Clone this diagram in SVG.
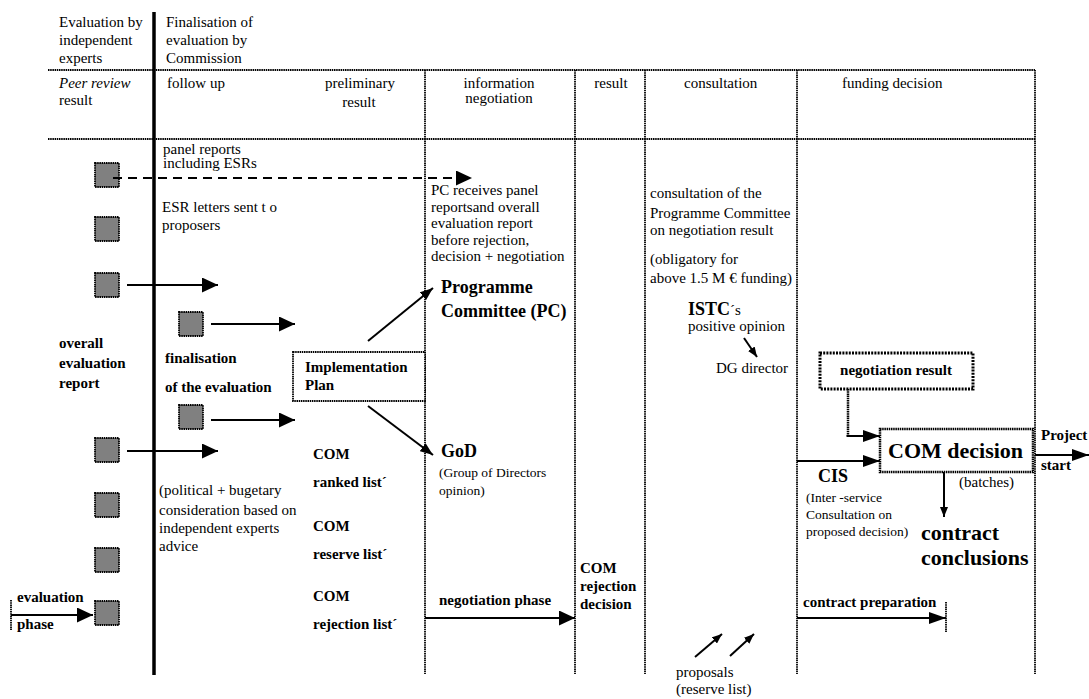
<svg xmlns="http://www.w3.org/2000/svg" width="1089" height="699" viewBox="0 0 1089 699" font-family="'Liberation Serif', 'DejaVu Serif', serif">
  <style>
    text { font-family: "Liberation Serif", "DejaVu Serif", serif; fill: #000; }
    .t { font-size: 15px; }
    .s { font-size: 13.5px; }
    .b { font-size: 15px; font-weight: bold; }
    .bl { font-size: 18px; font-weight: bold; }
    .bx { font-size: 22px; font-weight: bold; }
    .it { font-size: 15px; font-style: italic; }
    .mid { text-anchor: middle; }
    .grid { stroke: #000; stroke-width: 1.8; stroke-dasharray: 1.5 0.7; fill: none; }
    .sq { fill: #808080; stroke: #000; stroke-width: 1.8; stroke-dasharray: 1.5 0.7; }
    .box { fill: #fff; stroke: #000; stroke-width: 1.8; stroke-dasharray: 1.5 0.7; }
    .arr { stroke: #000; stroke-width: 2; fill: none; }
  </style>
  <defs>
    <marker id="head" markerUnits="userSpaceOnUse" markerWidth="16" markerHeight="15" refX="16" refY="7.5" orient="auto">
      <path d="M0,0 L16,7.5 L0,15 z" fill="#000"/>
    </marker>
    <marker id="headm" markerUnits="userSpaceOnUse" markerWidth="17" markerHeight="12" refX="17" refY="6" orient="auto">
      <path d="M0,0 L17,6 L0,12 z" fill="#000"/>
    </marker>
    <marker id="heads" markerUnits="userSpaceOnUse" markerWidth="13" markerHeight="10" refX="13" refY="5" orient="auto">
      <path d="M0,0 L13,5 L0,10 z" fill="#000"/>
    </marker>
    <marker id="headxs" markerUnits="userSpaceOnUse" markerWidth="10" markerHeight="8" refX="10" refY="4" orient="auto">
      <path d="M0,0 L10,4 L0,8 z" fill="#000"/>
    </marker>
  </defs>

  <!-- phase grid -->
  <g id="grid">
    <line class="grid" x1="48" y1="70" x2="1035" y2="70"/>
    <line class="grid" x1="48" y1="139" x2="1035" y2="139"/>
    <line class="grid" x1="425" y1="70" x2="425" y2="674"/>
    <line class="grid" x1="575" y1="70" x2="575" y2="674"/>
    <line class="grid" x1="645" y1="70" x2="645" y2="674"/>
    <line class="grid" x1="797" y1="70" x2="797" y2="674"/>
    <line class="grid" x1="1035" y1="70" x2="1035" y2="674"/>
    <line x1="154" y1="12" x2="154" y2="675" stroke="#000" stroke-width="3.5"/>
  </g>

  <!-- column headings -->
  <g id="headings">
    <text class="t" x="59" y="27">Evaluation by</text>
    <text class="t" x="59" y="45">independent</text>
    <text class="t" x="59" y="63">experts</text>
    <text class="t" x="166" y="27">Finalisation  of</text>
    <text class="t" x="166" y="45">evaluation by</text>
    <text class="t" x="166" y="63">Commission</text>
    <text class="it" x="59" y="88">Peer review</text>
    <text class="t" x="59" y="105">result</text>
    <text class="t" x="167" y="88">follow up</text>
    <text class="t mid" x="360" y="88">preliminary</text>
    <text class="t mid" x="359" y="107">result</text>
    <text class="t mid" x="499" y="88">information</text>
    <text class="t mid" x="499" y="103">negotiation</text>
    <text class="t mid" x="611" y="88">result</text>
    <text class="t" x="684" y="88">consultation</text>
    <text class="t" x="842" y="88">funding decision</text>
  </g>

  <!-- proposal squares -->
  <g id="proposals-left">
    <rect class="sq" x="95" y="163" width="24" height="24"/>
    <rect class="sq" x="95" y="217" width="24" height="24"/>
    <rect class="sq" x="95" y="273" width="24" height="24"/>
    <rect class="sq" x="95" y="438" width="24" height="24"/>
    <rect class="sq" x="95" y="493" width="24" height="24"/>
    <rect class="sq" x="95" y="548" width="24" height="24"/>
    <rect class="sq" x="95" y="601" width="24" height="24"/>
  </g>
  <g id="proposals-inner">
    <rect class="sq" x="179" y="312" width="24" height="24"/>
    <rect class="sq" x="179" y="405" width="24" height="24"/>
  </g>

  <!-- connectors -->
  <g id="connectors">
    <line x1="113" y1="178" x2="472" y2="178" stroke="#000" stroke-width="2" stroke-dasharray="9 6" marker-end="url(#head)"/>
    <line class="arr" x1="127" y1="285" x2="218" y2="285" marker-end="url(#head)"/>
    <line class="arr" x1="211" y1="324" x2="295" y2="324" marker-end="url(#head)"/>
    <line class="arr" x1="211" y1="420" x2="295" y2="420" stroke-width="3" marker-end="url(#head)"/>
    <line class="arr" x1="127" y1="451" x2="218" y2="451" marker-end="url(#head)"/>
    <line class="arr" x1="11" y1="615" x2="93" y2="615" marker-end="url(#head)"/>
    <line x1="11" y1="600" x2="11" y2="630" stroke="#000" stroke-width="1.8" stroke-dasharray="1.5 0.7"/>
    <line class="arr" x1="368" y1="341" x2="433" y2="288" marker-end="url(#heads)"/>
    <line class="arr" x1="368" y1="406" x2="433" y2="455" marker-end="url(#heads)"/>
    <line class="arr" x1="425" y1="618" x2="575" y2="618" marker-end="url(#head)"/>
    <line class="arr" x1="744" y1="338" x2="757" y2="357" stroke-width="2.5" marker-end="url(#headxs)"/>
    <line x1="848" y1="389" x2="848" y2="436" stroke="#000" stroke-width="2.5" stroke-dasharray="1.5 0.7"/>
    <line class="arr" x1="846.5" y1="436" x2="880" y2="436" stroke-width="3.5" marker-end="url(#headm)"/>
    <line class="arr" x1="797" y1="461" x2="880" y2="461" marker-end="url(#headm)"/>
    <line class="arr" x1="944" y1="472" x2="944" y2="517" marker-end="url(#headxs)"/>
    <line class="arr" x1="1035" y1="455" x2="1089" y2="455" marker-end="url(#headm)"/>
    <line class="arr" x1="797" y1="618" x2="946" y2="618" marker-end="url(#headm)"/>
    <line x1="946" y1="602" x2="946" y2="632" stroke="#000" stroke-width="1.8" stroke-dasharray="1.5 0.7"/>
    <line class="arr" x1="695" y1="657" x2="722" y2="634" marker-end="url(#headxs)"/>
    <line class="arr" x1="730" y1="656" x2="754" y2="634" stroke-width="1.5" marker-end="url(#headxs)"/>
  </g>

  <!-- evaluation by independent experts -->
  <g id="expert-notes">
    <text class="t" x="163" y="154">panel reports</text>
    <text class="t" x="163" y="168">including ESRs</text>
    <text class="t" x="162" y="212">ESR letters  sent  t o</text>
    <text class="t" x="162" y="230">proposers</text>
    <text class="b" x="59" y="348">overall</text>
    <text class="b" x="59" y="368">evaluation</text>
    <text class="b" x="59" y="388">report</text>
    <text class="b" x="17" y="602">evaluation</text>
    <text class="b" x="17" y="629">phase</text>
  </g>

  <g id="finalisation">
    <text class="b" x="165" y="363">finalisation</text>
    <text class="b" x="165" y="392">of the  evaluation</text>
    <text class="t" x="159" y="495">(political + bugetary</text>
    <text class="t" x="159" y="515">consideration based on</text>
    <text class="t" x="159" y="533">independent experts</text>
    <text class="t" x="159" y="551">advice</text>
  </g>

  <g id="implementation-plan">
    <rect class="box" x="293" y="352" width="132" height="49"/>
    <text class="b" x="305" y="372">Implementation</text>
    <text class="b" x="305" y="390">Plan</text>
  </g>

  <g id="com-lists">
    <text class="b" x="313" y="459">COM</text>
    <text class="b" x="313" y="487">ranked list´</text>
    <text class="b" x="313" y="531">COM</text>
    <text class="b" x="313" y="559">reserve list´</text>
    <text class="b" x="313" y="601">COM</text>
    <text class="b" x="313" y="629">rejection list´</text>
  </g>

  <g id="programme-committee">
    <text class="t" x="431" y="195">PC receives panel</text>
    <text class="t" x="431" y="212">reportsand overall</text>
    <text class="t" x="431" y="228">evaluation report</text>
    <text class="t" x="431" y="245">before rejection,</text>
    <text class="t" x="431" y="261">decision + negotiation</text>
    <text class="bl" x="441" y="293">Programme</text>
    <text class="bl" x="441" y="317">Committee (PC)</text>
  </g>

  <g id="god">
    <text class="bl" x="441" y="457">GoD</text>
    <text class="s" x="439" y="477">(Group of Directors</text>
    <text class="s" x="439" y="495">opinion)</text>
  </g>

  <g id="negotiation-phase">
    <text class="b" x="439" y="605">negotiation phase</text>
  </g>

  <g id="rejection-decision">
    <text class="b" x="580" y="573">COM</text>
    <text class="b" x="580" y="591">rejection</text>
    <text class="b" x="580" y="609">decision</text>
  </g>

  <g id="consultation">
    <text class="t" x="650" y="198">consultation of the</text>
    <text class="t" x="650" y="218">Programme Committee</text>
    <text class="t" x="650" y="235">on negotiation result</text>
    <text class="t" x="650" y="264">(obligatory  for</text>
    <text class="t" x="650" y="283">above 1.5 M €  funding)</text>
    <text x="688" y="315"><tspan class="bl">ISTC</tspan><tspan class="t">´s</tspan></text>
    <text class="t" x="688" y="331">positive opinion</text>
    <text class="t" x="716" y="373">DG director</text>
    <text class="t" x="676" y="677">proposals</text>
    <text class="t" x="676" y="694">(reserve  list)</text>
  </g>

  <g id="negotiation-result">
    <rect x="820" y="353" width="153" height="36" fill="#fff" stroke="#000" stroke-width="3" stroke-dasharray="2 1.2"/>
    <text class="b mid" x="896" y="375">negotiation result</text>
  </g>

  <g id="com-decision">
    <rect x="880" y="429" width="153" height="43" fill="#fff" stroke="#000" stroke-width="2.5" stroke-dasharray="1.5 0.7"/>
    <text class="bx" x="888" y="458">COM decision</text>
    <text class="t" x="959" y="487">(batches)</text>
  </g>

  <g id="cis">
    <text class="bl" x="818" y="482">CIS</text>
    <text class="s" x="806" y="502">(Inter -service</text>
    <text class="s" x="806" y="519">Consultation on</text>
    <text class="s" x="806" y="536">proposed decision)</text>
  </g>

  <g id="contract">
    <text class="bx" x="921" y="540">contract</text>
    <text class="bx" x="921" y="565">conclusions</text>
    <text class="b" x="803" y="607">contract preparation</text>
  </g>

  <g id="project-start">
    <text class="b" x="1041" y="440">Project</text>
    <text class="b" x="1041" y="470">start</text>
  </g>
</svg>
